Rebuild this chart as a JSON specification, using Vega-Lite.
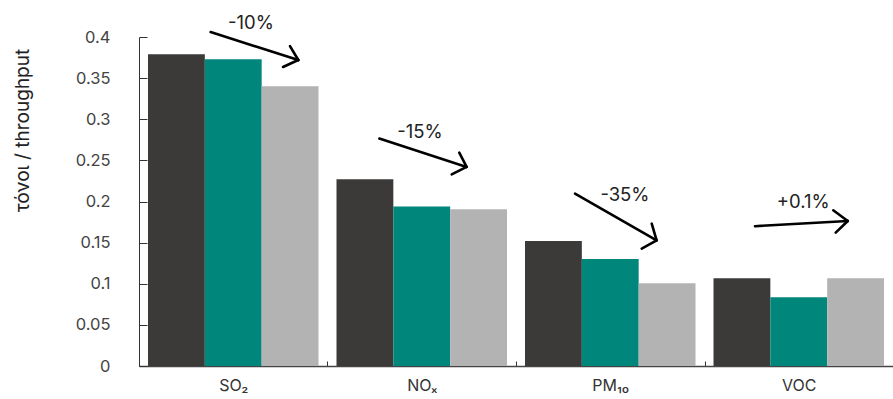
{
  "$schema": "https://vega.github.io/schema/vega-lite/v6.json",
  "autosize": {"type": "none"},
  "padding": {"left": 139, "top": 37, "right": 0, "bottom": 33},
  "width": 754,
  "height": 329,
  "config": {
    "view": {"stroke": null},
    "font": "Inter",
    "axis": {"grid": false}
  },
  "datasets": {
    "bars": [
      {"pollutant": "SO₂", "series": "A", "value": 0.379},
      {"pollutant": "SO₂", "series": "B", "value": 0.373},
      {"pollutant": "SO₂", "series": "C", "value": 0.340},
      {"pollutant": "NOₓ", "series": "A", "value": 0.227},
      {"pollutant": "NOₓ", "series": "B", "value": 0.194},
      {"pollutant": "NOₓ", "series": "C", "value": 0.1905},
      {"pollutant": "PM₁₀", "series": "A", "value": 0.152},
      {"pollutant": "PM₁₀", "series": "B", "value": 0.130},
      {"pollutant": "PM₁₀", "series": "C", "value": 0.1006},
      {"pollutant": "VOC", "series": "A", "value": 0.1067},
      {"pollutant": "VOC", "series": "B", "value": 0.0835},
      {"pollutant": "VOC", "series": "C", "value": 0.1068}
    ],
    "arrows": [
      {"arrow": "SO2", "part": "shaft", "x": 0.380, "y": 0.406, "x2": 0.845, "y2": 0.372},
      {"arrow": "SO2", "part": "w1", "x": 0.801, "y": 0.389, "x2": 0.845, "y2": 0.372},
      {"arrow": "SO2", "part": "w2", "x": 0.764, "y": 0.3635, "x2": 0.845, "y2": 0.372},
      {"arrow": "NOx", "part": "shaft", "x": 1.275, "y": 0.2765, "x2": 1.738, "y2": 0.242},
      {"arrow": "NOx", "part": "w1", "x": 1.699, "y": 0.2595, "x2": 1.738, "y2": 0.242},
      {"arrow": "NOx", "part": "w2", "x": 1.659, "y": 0.233, "x2": 1.738, "y2": 0.242},
      {"arrow": "PM10", "part": "shaft", "x": 2.313, "y": 0.2096, "x2": 2.746, "y2": 0.1528},
      {"arrow": "PM10", "part": "w1", "x": 2.720, "y": 0.1731, "x2": 2.746, "y2": 0.1528},
      {"arrow": "PM10", "part": "w2", "x": 2.667, "y": 0.1427, "x2": 2.746, "y2": 0.1528},
      {"arrow": "VOC", "part": "shaft", "x": 3.268, "y": 0.170, "x2": 3.760, "y2": 0.1763},
      {"arrow": "VOC", "part": "w1", "x": 3.683, "y": 0.1893, "x2": 3.760, "y2": 0.1763},
      {"arrow": "VOC", "part": "w2", "x": 3.696, "y": 0.1622, "x2": 3.760, "y2": 0.1763}
    ],
    "labels": [
      {"text": "-10%", "x": 0.594, "y": 0.417},
      {"text": "-15%", "x": 1.491, "y": 0.2845},
      {"text": "-35%", "x": 2.578, "y": 0.2075},
      {"text": "+0.1%", "x": 3.524, "y": 0.199}
    ]
  },
  "layer": [
    {
      "data": {"name": "bars"},
      "mark": {"type": "bar"},
      "encoding": {
        "x": {
          "field": "pollutant", "type": "nominal", "sort": null,
          "scale": {"paddingInner": 0.0955, "paddingOuter": 0.0477},
          "axis": {
            "title": null, "labelAngle": 0, "labelFontSize": 16, "labelColor": "#333",
            "tickSize": -5, "tickColor": "#333", "tickOffset": -94.25, "labelOffset": 94.25,
            "labelPadding": 16, "domainColor": "#444", "domainWidth": 1.5
          }
        },
        "xOffset": {"field": "series", "type": "nominal", "sort": null},
        "y": {
          "field": "value", "type": "quantitative",
          "scale": {"domain": [0, 0.4], "nice": false},
          "axis": {
            "title": "τόνοι / throughput", "titleFontSize": 19, "titleFontWeight": "normal", "titleColor": "#222",
            "titleX": -117, "titleY": 93, "titleBaseline": "middle", "titleAngle": -90,
            "format": "~g", "values": [0, 0.05, 0.1, 0.15, 0.2, 0.25, 0.3, 0.35, 0.4],
            "labelFontSize": 16.5, "labelColor": "#444", "tickSize": -8, "tickColor": "#333",
            "labelPadding": 37, "domainColor": "#333"
          }
        },
        "color": {
          "field": "series", "type": "nominal", "legend": null,
          "scale": {"domain": ["A", "B", "C"], "range": ["#3b3a38", "#00867b", "#b3b3b3"]}
        }
      }
    },
    {
      "layer": [
        {
          "data": {"name": "arrows"},
          "mark": {"type": "rule", "strokeWidth": 2.6, "color": "#000", "strokeCap": "round"},
          "encoding": {
            "x": {"field": "x", "type": "quantitative", "scale": {"domain": [0, 4], "nice": false, "zero": false}, "axis": null},
            "x2": {"field": "x2"},
            "y": {"field": "y", "type": "quantitative"},
            "y2": {"field": "y2"}
          }
        },
        {
          "data": {"name": "labels"},
          "mark": {"type": "text", "fontSize": 18.5, "color": "#222", "baseline": "middle", "align": "center"},
          "encoding": {
            "x": {"field": "x", "type": "quantitative", "scale": {"domain": [0, 4], "nice": false, "zero": false}, "axis": null},
            "y": {"field": "y", "type": "quantitative"},
            "text": {"field": "text"}
          }
        }
      ]
    }
  ],
  "resolve": {"scale": {"x": "independent"}, "axis": {"x": "independent"}}
}
